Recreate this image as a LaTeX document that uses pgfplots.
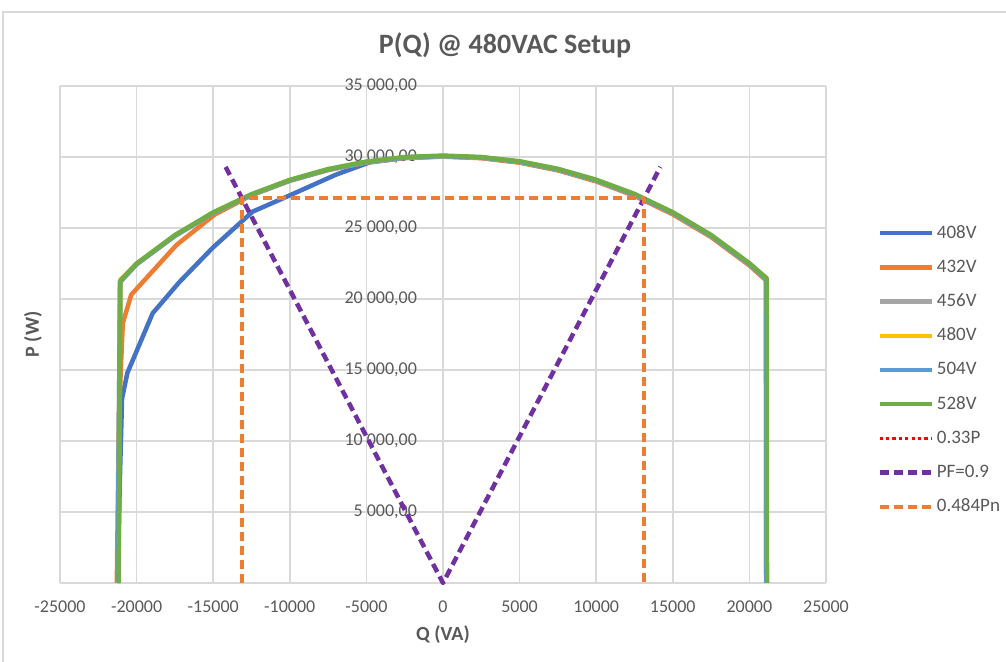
\documentclass[border=0pt]{standalone}
\usepackage{pgfplots}
\pgfplotsset{compat=1.18}
\usepackage{fontspec}
\setmainfont{Carlito}
\definecolor{txt}{HTML}{595959}
\definecolor{gridc}{HTML}{D9D9D9}
\definecolor{c408}{HTML}{4472C4}
\definecolor{c432}{HTML}{ED7D31}
\definecolor{c456}{HTML}{A5A5A5}
\definecolor{c480}{HTML}{FFC000}
\definecolor{c504}{HTML}{5B9BD5}
\definecolor{c528}{HTML}{70AD47}
\definecolor{cpf}{HTML}{7030A0}
\begin{document}
\begin{tikzpicture}
\path[use as bounding box] (0,0) rectangle (503pt,331pt);
\draw[gridc, line width=0.75pt] (1.5pt,0) -- (1.5pt,325pt) -- (503pt,325pt);
\begin{axis}[
  at={(30pt,39.5pt)}, anchor=south west,
  scale only axis, width=383pt, height=248.5pt,
  xmin=-25000, xmax=25000, ymin=0, ymax=35000,
  scaled ticks=false,
  axis x line=bottom, axis y line=center,
  axis line style={-, gridc, line width=0.75pt},
  major tick length=0pt,
  xtick={-25000,-20000,-15000,-10000,-5000,0,5000,10000,15000,20000,25000},
  xticklabels={-25000,-20000,-15000,-10000,-5000,0,5000,10000,15000,20000,25000},
  ytick={5000,10000,15000,20000,25000,30000,35000},
  yticklabels={{5 000,00},{10 000,00},{15 000,00},{20 000,00},{25 000,00},{30 000,00},{35 000,00}},
  extra y ticks={0}, extra y tick labels={},
  grid=major, grid style={gridc, line width=0.75pt},
  tick label style={font=\fontsize{9}{10}\selectfont, text=txt},
  xticklabel style={yshift=-5.5pt},
  yticklabel style={xshift=-9.5pt},
  title={P(Q) @ 480VAC Setup},
  every axis title/.style={at={(axis description cs:0.5,1)}, anchor=center, yshift=20.5pt, xshift=31pt, font=\fontsize{14}{16}\selectfont\bfseries, text=txt},
  xlabel={Q (VA)}, ylabel={P (W)},
  every axis x label/.style={at={(axis description cs:0.5,0)}, anchor=center, yshift=-26pt, font=\fontsize{10}{12}\selectfont\bfseries, text=txt},
  every axis y label/.style={at={(axis description cs:0,0.5)}, anchor=center, rotate=90, yshift=13.5pt, font=\fontsize{10}{12}\selectfont\bfseries, text=txt},
  legend cell align=left,
  legend image code/.code={\draw[#1] (0pt,0pt) -- (26pt,0pt);},
  legend style={at={(axis description cs:1,0.4306)}, anchor=west, xshift=25.5pt, yshift=-0.5pt, draw=none, fill=none, inner sep=0pt,
    font=\fontsize{9.5}{11}\selectfont, text=txt, row sep=5.1pt,
    nodes={inner sep=1.5pt, text height=7pt, text depth=2pt}},
  every axis plot/.append style={line width=2.25pt, line join=round},
  clip=false,
]
\addplot[c408, no marks] coordinates {(-21220,0) (-21100,7000) (-20950,13000) (-20600,14800) (-18950,19000) (-17200,21200) (-15040,23600) (-12430,26150) (-10000,27300) (-7000,28750) (-4800,29620) (-2500,29930) (0,30040) (2500,29940) (5000,29630) (7500,29090) (10000,28320) (12500,27310) (15000,26020) (17500,24420) (20000,22420) (21090,21360) (21100,0)};
\addlegendentry{408V}
\addplot[c432, no marks] coordinates {(-21290,0) (-21150,12000) (-20900,18300) (-20350,20300) (-17400,23800) (-14900,25950) (-12500,27300) (-10000,28320) (-7500,29080) (-5000,29610) (-2500,29930) (0,30030) (2500,29920) (5000,29600) (7500,29060) (10000,28280) (12500,27260) (15000,25960) (17500,24360) (20000,22360) (21080,21320) (21090,0)};
\addlegendentry{432V}
\addplot[c456, no marks] coordinates {(-21220,0) (-21090,21180) (-20000,22440) (-17500,24440) (-15000,26050) (-12500,27330) (-10000,28340) (-7500,29100) (-5000,29630) (-2500,29950) (0,30050) (2500,29950) (5000,29650) (7500,29110) (10000,28340) (12500,27330) (15000,26040) (17500,24440) (20000,22440) (21100,21390) (21110,0)};
\addlegendentry{456V}
\addplot[c480, no marks] coordinates {(-21200,0) (-21070,21340) (-20000,22470) (-17500,24470) (-15000,26070) (-12500,27350) (-10000,28360) (-7500,29120) (-5000,29650) (-2500,29970) (0,30070) (2500,29970) (5000,29670) (7500,29130) (10000,28360) (12500,27350) (15000,26060) (17500,24460) (20000,22460) (21110,21410) (21120,0)};
\addlegendentry{480V}
\addplot[c504, no marks] coordinates {(-21240,0) (-21080,21200) (-20000,22450) (-17500,24450) (-15000,26060) (-12500,27340) (-10000,28350) (-7500,29110) (-5000,29640) (-2500,29960) (0,30060) (2500,29960) (5000,29660) (7500,29120) (10000,28350) (12500,27340) (15000,26050) (17500,24450) (20000,22450) (21100,21400) (21110,0)};
\addlegendentry{504V}
\addplot[c528, no marks] coordinates {(-21180,0) (-21050,21300) (-20000,22500) (-17500,24500) (-15000,26100) (-12500,27380) (-10000,28390) (-7500,29150) (-5000,29680) (-2500,30000) (0,30100) (2500,30000) (5000,29700) (7500,29170) (10000,28400) (12500,27400) (15000,26110) (17500,24510) (20000,22520) (21130,21460) (21150,0)};
\addlegendentry{528V}
\addlegendimage{red, line width=1.6pt, dash pattern=on 1.6pt off 1.6pt}
\addlegendentry{0.33P}
\addplot[cpf, no marks, dash pattern=on 4.5pt off 2.5pt] coordinates {(-14190,29300) (0,0) (14190,29300)};
\addlegendentry{PF=0.9}
\addplot[c432, no marks, dash pattern=on 4.5pt off 2.5pt] coordinates {(-13125,0) (-13125,27120) (13125,27120) (13125,0)};
\addlegendentry{0.484Pn}
\end{axis}
\end{tikzpicture}
\end{document}
